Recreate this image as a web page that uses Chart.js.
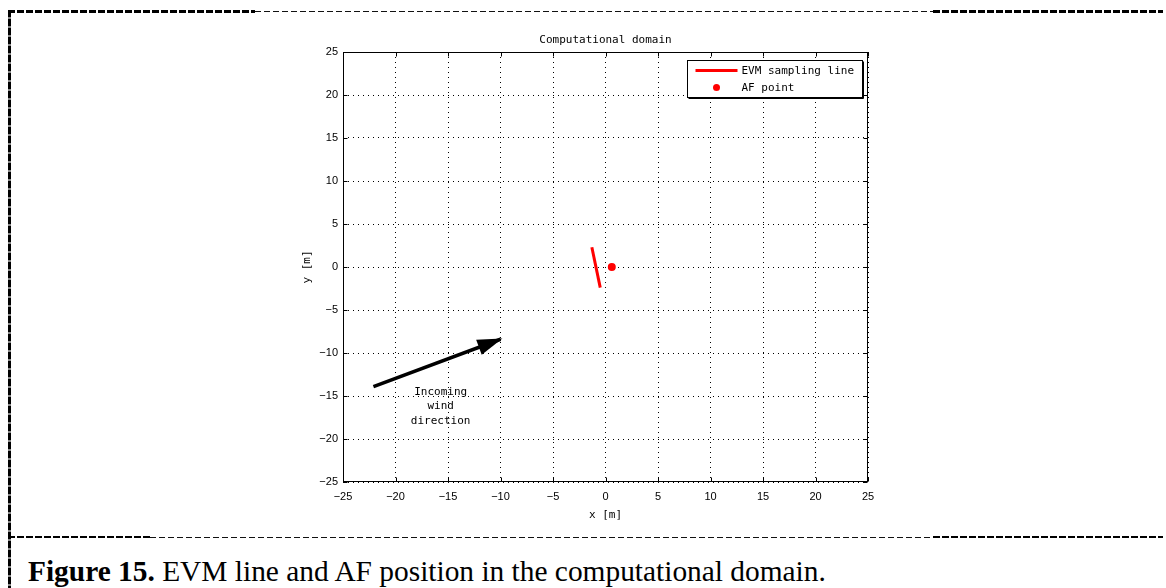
<!DOCTYPE html>
<html>
<head>
<meta charset="utf-8">
<script src="https://cdn.jsdelivr.net/npm/chart.js@4"></script>
<style>
html,body{margin:0;padding:0;background:#fff;}
body{width:1166px;height:588px;position:relative;overflow:hidden;}
#wrap{position:absolute;left:270px;top:25px;width:620px;height:505px;}
.thickH{position:absolute;height:3px;background:repeating-linear-gradient(to right,#000 0 7px,transparent 7px 9px);}
.thinH{position:absolute;height:1px;background:repeating-linear-gradient(to right,#111 0 6px,transparent 6px 9px);}
.thickV{position:absolute;width:3px;background:repeating-linear-gradient(to bottom,#000 0 7px,#888 7px 9px);}
#caption{position:absolute;left:28px;top:555px;font-family:'Liberation Serif','Times New Roman',serif;font-size:29.4px;color:#000;white-space:nowrap;line-height:32px;}
</style>
</head>
<body>
<div class="thickH" style="left:8px;top:10px;width:247px;"></div>
<div class="thinH" style="left:255px;top:11px;width:678px;"></div>
<div class="thickH" style="left:933px;top:10px;width:230px;"></div>
<div class="thickV" style="left:8px;top:10px;height:578px;"></div>
<div class="thickH" style="left:8px;top:536px;width:142px;height:2px;"></div>
<div class="thinH" style="left:150px;top:537px;width:783px;"></div>
<div class="thickH" style="left:933px;top:536px;width:230px;height:2px;"></div>
<div id="wrap"><canvas id="c"></canvas></div>
<div id="caption"><b>Figure 15.</b> EVM line and AF position in the computational domain.</div>
<script>
// ---- data ----
const chartTitle = 'Computational domain';
const xAxisTitle = 'x [m]';
const yAxisTitle = 'y [m]';
const xTickValues = [-25, -20, -15, -10, -5, 0, 5, 10, 15, 20, 25];
const yTickValues = [-25, -20, -15, -10, -5, 0, 5, 10, 15, 20, 25];
const xTickLabels = ['\u221225', '\u221220', '\u221215', '\u221210', '\u22125', '0', '5', '10', '15', '20', '25'];
const yTickLabels = ['\u221225', '\u221220', '\u221215', '\u221210', '\u22125', '0', '5', '10', '15', '20', '25'];

const evmLabel = 'EVM sampling line';
const evmX = [-1.3, -0.5];
const evmY = [2.3, -2.4];

const afLabel = 'AF point';
const afX = [0.6];
const afY = [0.0];

const windX = [-22.1, -10.0];
const windY = [-13.9, -8.4];
const windText = ['Incoming', 'wind', 'direction'];
const windTextX = [-15.7, -15.7, -15.7];
const windTextY = [-14.6, -16.2, -17.9];

const toPts = (xs, ys) => xs.map((v, i) => ({x: v, y: ys[i]}));

const MONO = "'DejaVu Sans Mono', monospace";

const deco = {
  id: 'deco',
  afterDraw(chart) {
    const {ctx, chartArea: a, scales: {x, y}} = chart;
    ctx.save();
    const L = Math.round(a.left) + 0.5, R = Math.round(a.right) - 0.5;
    const T = Math.round(a.top) + 0.5, B = Math.round(a.bottom) - 0.5;
    // axes box
    ctx.strokeStyle = '#000';
    ctx.lineWidth = 1;
    ctx.strokeRect(L, T, R - L, B - T);
    // inward ticks
    const tl = 4;
    ctx.beginPath();
    xTickValues.forEach(v => {
      const px = Math.round(x.getPixelForValue(v)) + 0.5;
      ctx.moveTo(px, B); ctx.lineTo(px, B - tl);
      ctx.moveTo(px, T); ctx.lineTo(px, T + tl);
    });
    yTickValues.forEach(v => {
      const py = Math.round(y.getPixelForValue(v)) + 0.5;
      ctx.moveTo(L, py); ctx.lineTo(L + tl, py);
      ctx.moveTo(R, py); ctx.lineTo(R - tl, py);
    });
    ctx.stroke();

    // arrow head
    const n = windX.length;
    const x0 = x.getPixelForValue(windX[n - 2]), y0 = y.getPixelForValue(windY[n - 2]);
    const x1 = x.getPixelForValue(windX[n - 1]), y1 = y.getPixelForValue(windY[n - 1]);
    const ang = Math.atan2(y1 - y0, x1 - x0);
    const hl = 25, hw = 8;
    const tx = x1 + 2 * Math.cos(ang), ty = y1 + 2 * Math.sin(ang);
    const bx = tx - hl * Math.cos(ang), by = ty - hl * Math.sin(ang);
    ctx.fillStyle = '#000';
    ctx.beginPath();
    ctx.moveTo(tx, ty);
    ctx.lineTo(bx + hw * Math.sin(ang), by - hw * Math.cos(ang));
    ctx.lineTo(bx - hw * Math.sin(ang), by + hw * Math.cos(ang));
    ctx.closePath();
    ctx.fill();

    // wind text
    ctx.font = '11px ' + MONO;
    ctx.textAlign = 'center';
    ctx.textBaseline = 'middle';
    windText.forEach((t, i) => {
      ctx.fillText(t, x.getPixelForValue(windTextX[i]), y.getPixelForValue(windTextY[i]));
    });

    // title
    ctx.fillText(chartTitle, (a.left + a.right) / 2, a.top - 12);

    // legend
    const ds = chart.data.datasets;
    const bw = 175, bh = 37;
    const bl = Math.round(a.right - 6 - bw) + 0.5, bt = Math.round(a.top + 8) + 0.5;
    ctx.fillStyle = '#fff';
    ctx.fillRect(bl, bt, bw, bh);
    ctx.strokeStyle = '#000';
    ctx.lineWidth = 1;
    ctx.strokeRect(bl, bt, bw, bh);
    ctx.beginPath();
    ctx.moveTo(bl + bw + 1, bt + 1); ctx.lineTo(bl + bw + 1, bt + bh + 1); ctx.lineTo(bl + 1, bt + bh + 1);
    ctx.stroke();
    ctx.textAlign = 'left';
    ctx.fillStyle = '#000';
    // row 1: line
    const r1 = bt + 10, r2 = bt + 28;
    ctx.strokeStyle = ds[0].borderColor;
    ctx.lineWidth = 3;
    ctx.beginPath();
    ctx.moveTo(bl + 8, r1); ctx.lineTo(bl + 50, r1);
    ctx.stroke();
    ctx.fillText(ds[0].label, bl + 54, r1 + 1);
    // row 2: point
    ctx.fillStyle = ds[1].backgroundColor;
    ctx.beginPath();
    ctx.arc(bl + 29, r2 - 1, 3.5, 0, Math.PI * 2);
    ctx.fill();
    ctx.fillStyle = '#000';
    ctx.fillText(ds[1].label, bl + 54, r2);
    ctx.restore();
  }
};

new Chart(document.getElementById('c'), {
  type: 'scatter',
  data: {
    datasets: [
      {label: evmLabel, data: toPts(evmX, evmY), showLine: true, borderColor: '#ff0000', backgroundColor: '#ff0000',
       borderWidth: 3, pointRadius: 0, borderCapStyle: 'butt'},
      {label: afLabel, data: toPts(afX, afY), showLine: false, borderColor: '#ff0000', backgroundColor: '#ff0000',
       pointRadius: 4, pointBorderWidth: 0},
      {label: '', data: toPts(windX, windY), showLine: true, borderColor: '#000', backgroundColor: '#000',
       borderWidth: 3.5, pointRadius: 0, borderCapStyle: 'butt'}
    ]
  },
  options: {
    responsive: true,
    maintainAspectRatio: false,
    animation: false,
    devicePixelRatio: 1,
    layout: {padding: {top: 27, right: 22, left: 0, bottom: 0}},
    plugins: {legend: {display: false}, tooltip: {enabled: false}, title: {display: false}},
    scales: {
      x: {
        type: 'linear', min: -25, max: 25,
        afterBuildTicks: s => { s.ticks = xTickValues.map(v => ({value: v})); },
        afterFit: s => { s.height = 48; },
        ticks: {color: '#000', font: {family: "'Liberation Sans', Arial, sans-serif", size: 11}, padding: 8,
          maxRotation: 0, autoSkip: false,
          callback: v => xTickLabels[xTickValues.indexOf(v)]},
        grid: {color: '#000', lineWidth: 1, drawTicks: false},
        border: {display: false, dash: [1, 4]},
        title: {display: true, text: xAxisTitle, color: '#000', font: {family: MONO, size: 11}, padding: {top: 0, bottom: 8}}
      },
      y: {
        type: 'linear', min: -25, max: 25,
        afterBuildTicks: s => { s.ticks = yTickValues.map(v => ({value: v})); },
        afterFit: s => { s.width = 73; },
        ticks: {color: '#000', font: {family: "'Liberation Sans', Arial, sans-serif", size: 11}, padding: 5,
          autoSkip: false,
          callback: v => yTickLabels[yTickValues.indexOf(v)]},
        grid: {color: '#000', lineWidth: 1, drawTicks: false},
        border: {display: false, dash: [1, 4]},
        title: {display: true, text: yAxisTitle, color: '#000', font: {family: MONO, size: 11}, padding: {top: 31, bottom: 0}}
      }
    }
  },
  plugins: [deco]
});
</script>
</body>
</html>
